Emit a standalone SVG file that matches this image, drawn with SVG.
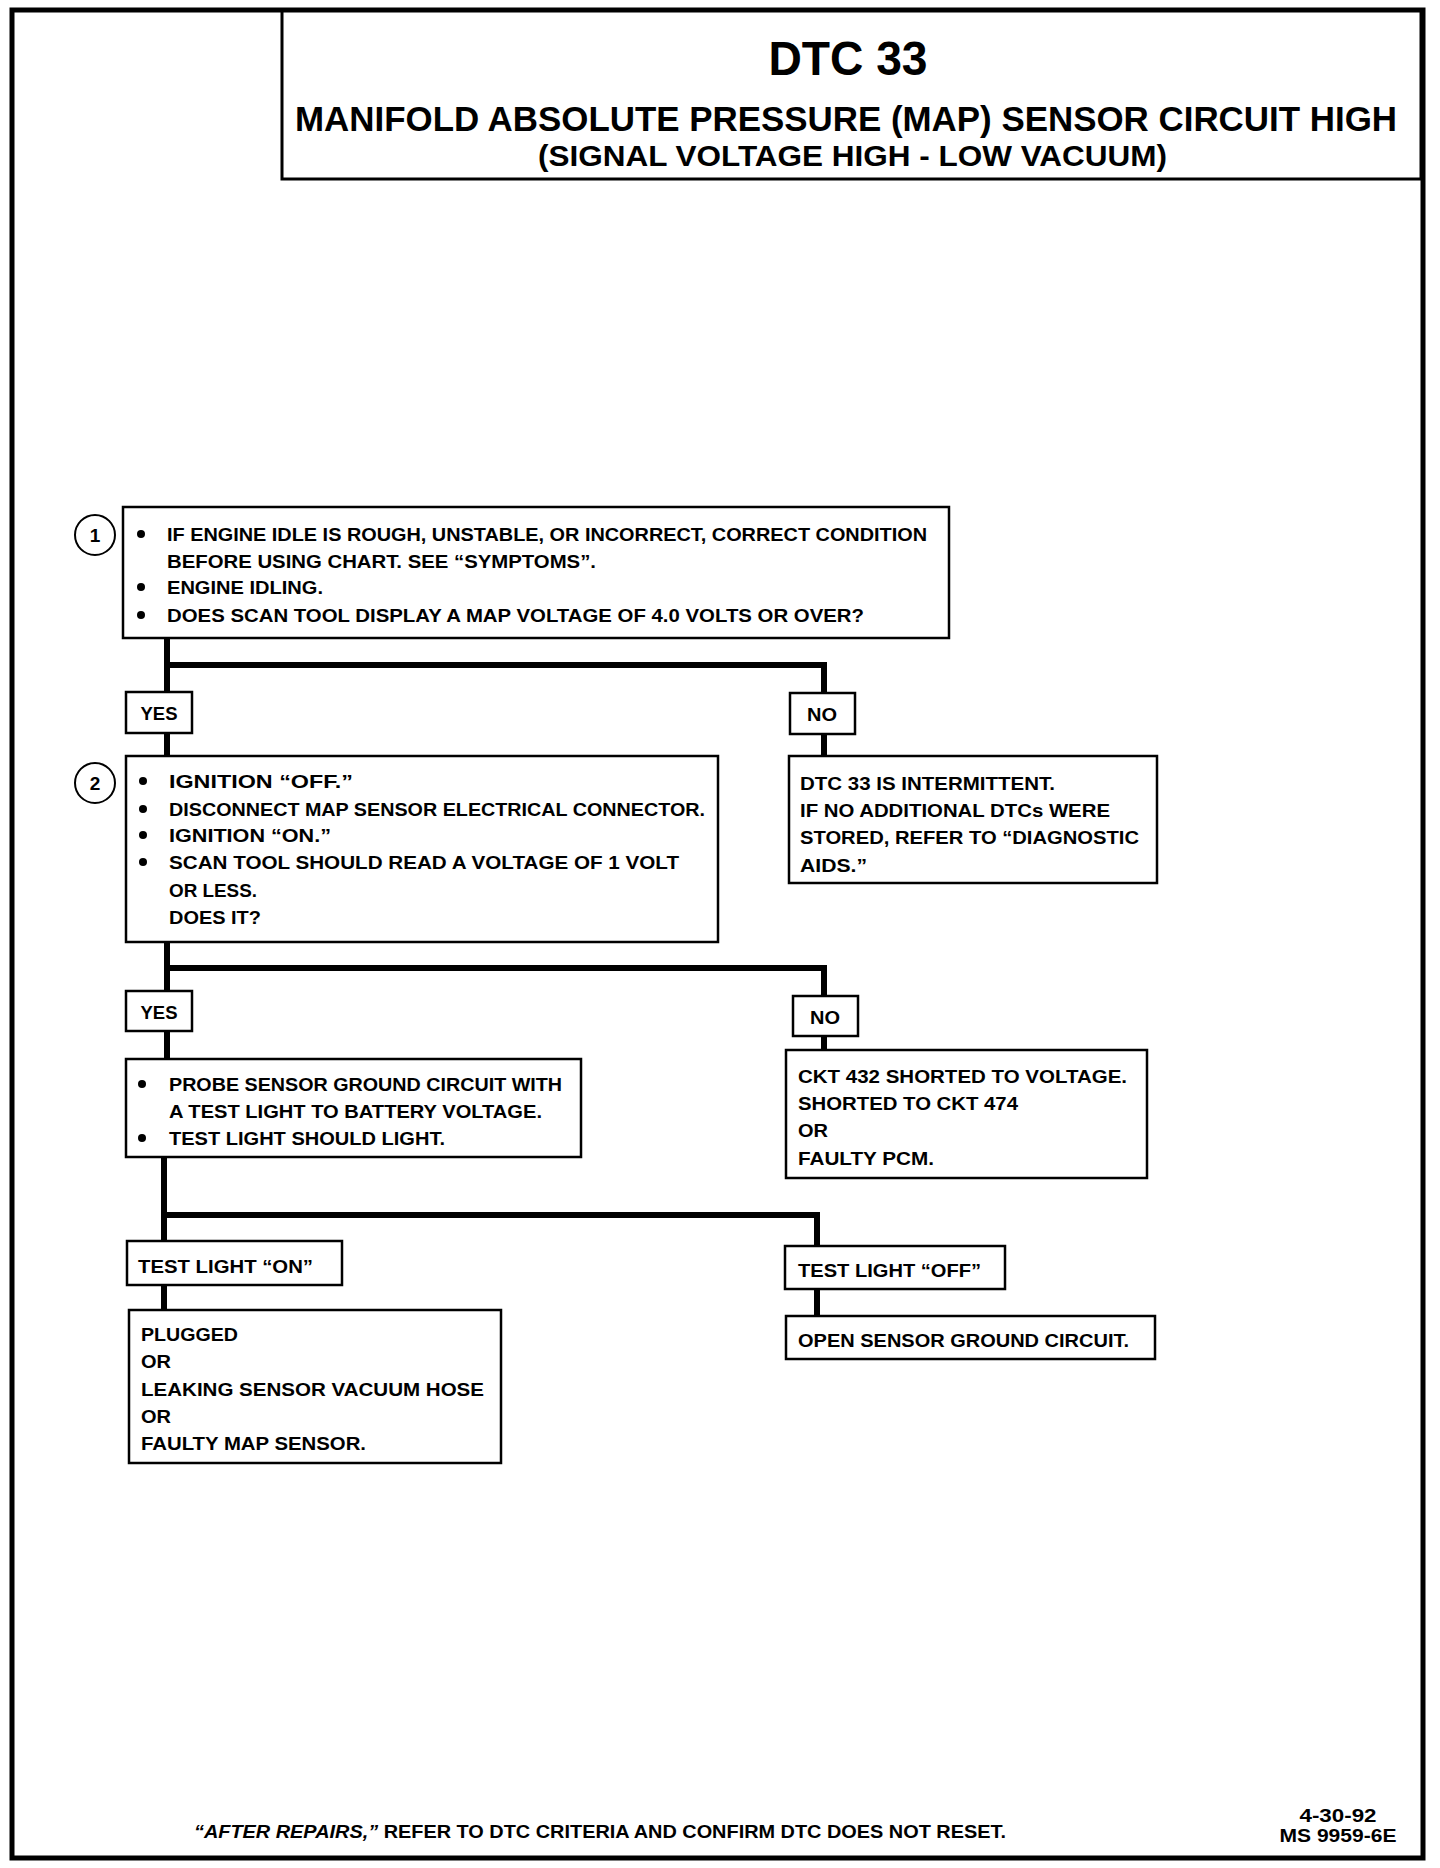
<svg xmlns="http://www.w3.org/2000/svg" width="1440" height="1868" viewBox="0 0 1440 1868">
<style>
  text { font-family: "Liberation Sans", Arial, sans-serif; font-weight: bold; fill: #000; }
  .t { font-size: 19px; }
  .box { fill: #fff; stroke: #000; stroke-width: 2.5; }
  .lbl { fill: #fff; stroke: #000; stroke-width: 2.5; }
  .conn { fill: none; stroke: #000; stroke-width: 6; stroke-linejoin: miter; stroke-linecap: butt; }
  .bul { fill: #000; }
  .circ { fill: #fff; stroke: #000; stroke-width: 2; }
</style>
<rect width="1440" height="1868" fill="#fff"/>
<g id="frame">
  <rect x="12" y="10" width="1411" height="1848" fill="none" stroke="#000" stroke-width="5"/>
</g>
<g id="title">
  <rect x="282" y="10" width="1139" height="169" fill="none" stroke="#000" stroke-width="3"/>
  <text x="848" y="75" font-size="48" text-anchor="middle" textLength="159" lengthAdjust="spacingAndGlyphs">DTC 33</text>
  <text x="295" y="131" font-size="35" textLength="1102" lengthAdjust="spacingAndGlyphs">MANIFOLD ABSOLUTE PRESSURE (MAP) SENSOR CIRCUIT HIGH</text>
  <text x="538" y="166" font-size="29" textLength="629" lengthAdjust="spacingAndGlyphs">(SIGNAL VOLTAGE HIGH - LOW VACUUM)</text>
</g>
<g id="connectors">
  <path class="conn" d="M167,638 V692"/>
  <path class="conn" d="M167,665 H824 V693"/>
  <path class="conn" d="M167,733 V756"/>
  <path class="conn" d="M824,734 V756"/>
  <path class="conn" d="M167,942 V991"/>
  <path class="conn" d="M167,968 H824 V996"/>
  <path class="conn" d="M167,1031 V1059"/>
  <path class="conn" d="M824,1036 V1050"/>
  <path class="conn" d="M164,1157 V1241"/>
  <path class="conn" d="M164,1215 H817 V1246"/>
  <path class="conn" d="M164,1285 V1310"/>
  <path class="conn" d="M817,1289 V1316"/>
</g>
<g id="step1">
  <circle class="circ" cx="95" cy="535" r="20"/>
  <text class="t" x="95" y="542" text-anchor="middle">1</text>
  <rect class="box" x="123" y="507" width="826" height="131"/>
  <circle class="bul" cx="141" cy="534" r="4"/>
  <circle class="bul" cx="141" cy="587" r="4"/>
  <circle class="bul" cx="141" cy="615" r="4"/>
  <text class="t" x="167" y="541" textLength="760" lengthAdjust="spacingAndGlyphs">IF ENGINE IDLE IS ROUGH, UNSTABLE, OR INCORRECT, CORRECT CONDITION</text>
  <text class="t" x="167" y="568" textLength="429" lengthAdjust="spacingAndGlyphs">BEFORE USING CHART.  SEE “SYMPTOMS”.</text>
  <text class="t" x="167" y="594" textLength="156" lengthAdjust="spacingAndGlyphs">ENGINE IDLING.</text>
  <text class="t" x="167" y="622" textLength="697" lengthAdjust="spacingAndGlyphs">DOES SCAN TOOL DISPLAY A MAP VOLTAGE OF 4.0 VOLTS OR OVER?</text>
</g>
<g id="yes1">
  <rect class="lbl" x="126" y="692" width="66" height="41"/>
  <text class="t" x="159" y="720" text-anchor="middle" textLength="37" lengthAdjust="spacingAndGlyphs">YES</text>
</g>
<g id="no1">
  <rect class="lbl" x="790" y="693" width="65" height="41"/>
  <text class="t" x="822" y="721" text-anchor="middle" textLength="30" lengthAdjust="spacingAndGlyphs">NO</text>
</g>
<g id="intermittent">
  <rect class="box" x="789" y="756" width="368" height="127"/>
  <text class="t" x="800" y="790" textLength="255" lengthAdjust="spacingAndGlyphs">DTC 33 IS INTERMITTENT.</text>
  <text class="t" x="800" y="817" textLength="310" lengthAdjust="spacingAndGlyphs">IF NO ADDITIONAL DTCs WERE</text>
  <text class="t" x="800" y="844" textLength="339" lengthAdjust="spacingAndGlyphs">STORED, REFER TO “DIAGNOSTIC</text>
  <text class="t" x="800" y="872" textLength="67" lengthAdjust="spacingAndGlyphs">AIDS.”</text>
</g>
<g id="step2">
  <circle class="circ" cx="95" cy="783" r="20"/>
  <text class="t" x="95" y="790" text-anchor="middle">2</text>
  <rect class="box" x="126" y="756" width="592" height="186"/>
  <circle class="bul" cx="143" cy="781" r="4"/>
  <circle class="bul" cx="143" cy="809" r="4"/>
  <circle class="bul" cx="143" cy="835" r="4"/>
  <circle class="bul" cx="143" cy="862" r="4"/>
  <text class="t" x="169" y="788" textLength="184" lengthAdjust="spacingAndGlyphs">IGNITION “OFF.”</text>
  <text class="t" x="169" y="816" textLength="536" lengthAdjust="spacingAndGlyphs">DISCONNECT MAP SENSOR ELECTRICAL CONNECTOR.</text>
  <text class="t" x="169" y="842" textLength="162" lengthAdjust="spacingAndGlyphs">IGNITION “ON.”</text>
  <text class="t" x="169" y="869" textLength="510" lengthAdjust="spacingAndGlyphs">SCAN TOOL SHOULD READ  A VOLTAGE OF 1 VOLT</text>
  <text class="t" x="169" y="897" textLength="88" lengthAdjust="spacingAndGlyphs">OR LESS.</text>
  <text class="t" x="169" y="924" textLength="92" lengthAdjust="spacingAndGlyphs">DOES IT?</text>
</g>
<g id="yes2">
  <rect class="lbl" x="126" y="991" width="66" height="40"/>
  <text class="t" x="159" y="1019" text-anchor="middle" textLength="37" lengthAdjust="spacingAndGlyphs">YES</text>
</g>
<g id="no2">
  <rect class="lbl" x="793" y="996" width="65" height="40"/>
  <text class="t" x="825" y="1024" text-anchor="middle" textLength="30" lengthAdjust="spacingAndGlyphs">NO</text>
</g>
<g id="step3">
  <rect class="box" x="126" y="1059" width="455" height="98"/>
  <circle class="bul" cx="142" cy="1084" r="4"/>
  <circle class="bul" cx="142" cy="1138" r="4"/>
  <text class="t" x="169" y="1091" textLength="393" lengthAdjust="spacingAndGlyphs">PROBE SENSOR GROUND CIRCUIT WITH</text>
  <text class="t" x="169" y="1118" textLength="373" lengthAdjust="spacingAndGlyphs">A TEST LIGHT TO BATTERY VOLTAGE.</text>
  <text class="t" x="169" y="1145" textLength="276" lengthAdjust="spacingAndGlyphs">TEST LIGHT SHOULD LIGHT.</text>
</g>
<g id="ckt432">
  <rect class="box" x="786" y="1050" width="361" height="128"/>
  <text class="t" x="798" y="1083" textLength="329" lengthAdjust="spacingAndGlyphs">CKT 432 SHORTED TO VOLTAGE.</text>
  <text class="t" x="798" y="1110" textLength="220" lengthAdjust="spacingAndGlyphs">SHORTED TO CKT 474</text>
  <text class="t" x="798" y="1137" textLength="30" lengthAdjust="spacingAndGlyphs">OR</text>
  <text class="t" x="798" y="1165" textLength="136" lengthAdjust="spacingAndGlyphs">FAULTY PCM.</text>
</g>
<g id="lighton">
  <rect class="lbl" x="127" y="1241" width="215" height="44"/>
  <text class="t" x="138" y="1273" textLength="175" lengthAdjust="spacingAndGlyphs">TEST LIGHT “ON”</text>
</g>
<g id="lightoff">
  <rect class="lbl" x="785" y="1246" width="220" height="43"/>
  <text class="t" x="798" y="1277" textLength="183" lengthAdjust="spacingAndGlyphs">TEST LIGHT “OFF”</text>
</g>
<g id="plugged">
  <rect class="box" x="129" y="1310" width="372" height="153"/>
  <text class="t" x="141" y="1341" textLength="97" lengthAdjust="spacingAndGlyphs">PLUGGED</text>
  <text class="t" x="141" y="1368" textLength="30" lengthAdjust="spacingAndGlyphs">OR</text>
  <text class="t" x="141" y="1396" textLength="343" lengthAdjust="spacingAndGlyphs">LEAKING SENSOR  VACUUM HOSE</text>
  <text class="t" x="141" y="1423" textLength="30" lengthAdjust="spacingAndGlyphs">OR</text>
  <text class="t" x="141" y="1450" textLength="225" lengthAdjust="spacingAndGlyphs">FAULTY MAP SENSOR.</text>
</g>
<g id="opencircuit">
  <rect class="box" x="786" y="1316" width="369" height="43"/>
  <text class="t" x="798" y="1347" textLength="331" lengthAdjust="spacingAndGlyphs">OPEN SENSOR GROUND CIRCUIT.</text>
</g>
<g id="footer">
  <text class="t" x="194" y="1838" textLength="812" lengthAdjust="spacingAndGlyphs"><tspan font-style="italic">“AFTER REPAIRS,”</tspan> REFER TO DTC CRITERIA  AND CONFIRM DTC DOES NOT RESET.</text>
  <text x="1338" y="1822" font-size="18" text-anchor="middle" textLength="77" lengthAdjust="spacingAndGlyphs">4-30-92</text>
  <text x="1338" y="1842" font-size="18" text-anchor="middle" textLength="117" lengthAdjust="spacingAndGlyphs">MS 9959-6E</text>
</g>
</svg>
